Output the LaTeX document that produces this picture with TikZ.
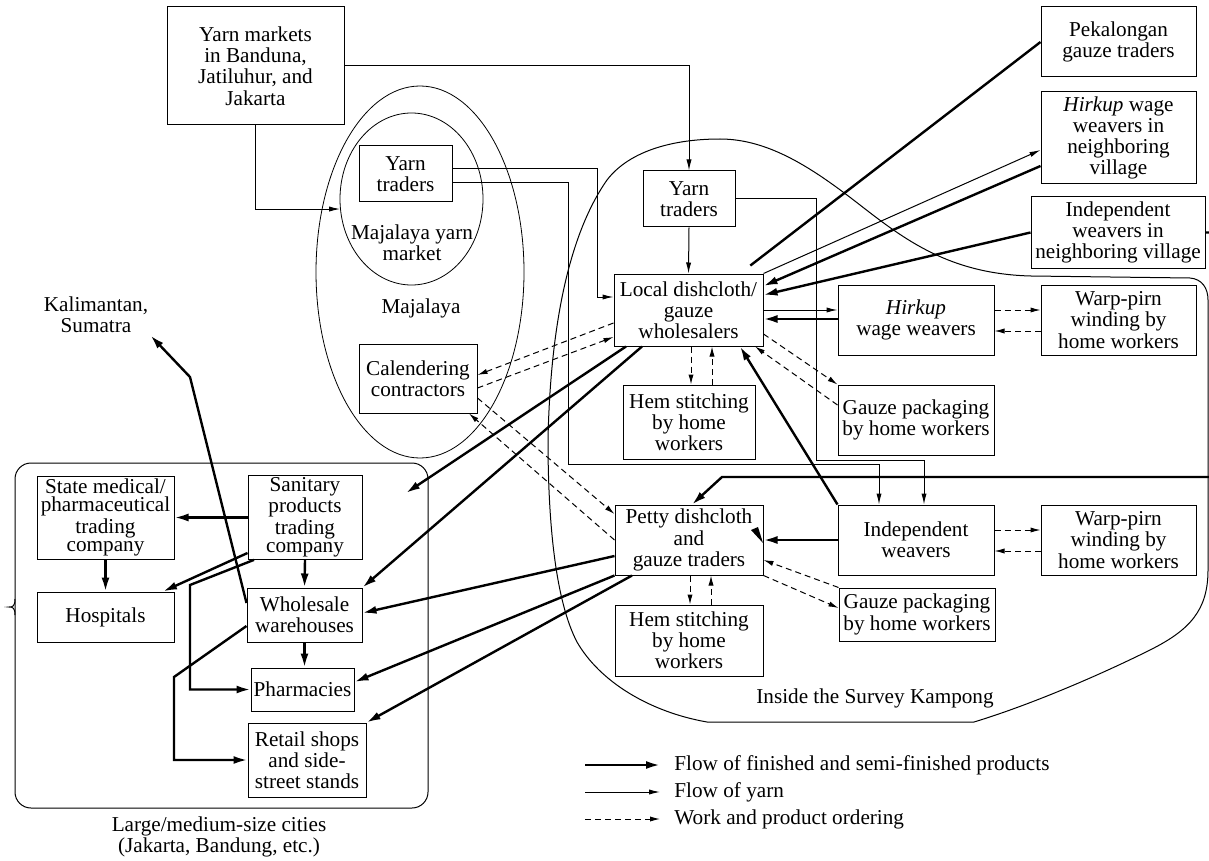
\documentclass[tikz,border=0pt]{standalone}
\usepackage{fontspec}
\setmainfont{Liberation Serif}
\usetikzlibrary{shapes.geometric,arrows.meta}
\tikzset{node distance=2cm,
  box/.style={draw,line width=0.5pt,align=center,inner sep=1pt,
    font=\fontsize{10.6}{10.6}\selectfont},
  lbl/.style={align=center,inner sep=1pt,font=\fontsize{10.6}{10.6}\selectfont},
  prod/.style={>={Latex[length=7pt,width=4pt]},->,line width=1.2pt},
  yarn/.style={>={Latex[length=5.5pt,width=2.6pt]},->,line width=0.5pt},
  order/.style={>={Latex[length=5pt,width=2.6pt]},->,line width=0.5pt,dash pattern=on 3pt off 2pt}}

\begin{document}
\begin{tikzpicture}[x=0.5pt,y=-0.5pt]
        \useasboundingbox (0,0) rectangle (1209,861);

        % Majalaya and the kampong
        \node [ellipse,draw,minimum width=104pt,minimum height=186pt,inner sep=0] (mjbig) at (420,272) {};
        \node [ellipse,draw,minimum width=71.5pt,minimum height=86pt,inner sep=0] (mjmkt) at (411.5,199) {};
        \node [lbl] (mjmktlbl) at (412,243) {Majalaya yarn\\market};
        \node [lbl] (mjbiglbl) at (421,308) {Majalaya};
        \draw [line width=0.5pt] (607,180) .. controls (630,150) and (675,139) .. (720,139)
            .. controls (770,139) and (815,170) .. (860,205)
            .. controls (905,240) and (950,274) .. (1031,276)
            -- (1190,278) .. controls (1202,279) and (1208,288) .. (1208,300)
            -- (1208,570) .. controls (1208,610) and (1190,630) .. (1150,650)
            .. controls (1100,675) and (1030,705) .. (974,722)
            -- (707,722) .. controls (650,712) and (600,682) .. (577,642)
            .. controls (555,600) and (548,520) .. (548,440)
            .. controls (550,340) and (565,240) .. (607,180) -- cycle;
        \node [lbl] (kamplbl) at (875,698) {Inside the Survey Kampong};

        % cities
        \node [draw,line width=0.5pt,rounded corners=8pt,minimum width=206.5pt,minimum height=172.5pt] (city) at (221.5,635.5) {};
        \draw [line width=0.5pt] (15,599) .. controls (15,606) and (13,607) .. (9,607)
                                 .. controls (13,607) and (15,608) .. (15,615);
        \node [lbl] (citylbl) at (219,837) {Large/medium-size cities\\(Jakarta, Bandung, etc.)};
        \node [lbl] (kalim) at (96,315) {Kalimantan,\\Sumatra};
        \coordinate (citytip) at (406,493);

        \node [box,minimum width=88.5pt,minimum height=59pt] (yarnmkt)   at (255.5,66)   {Yarn markets\\in Banduna,\\Jatiluhur, and\\Jakarta};
        \node [box,minimum width=46.5pt,minimum height=28pt] (mjtraders) at (405.5,174)  {Yarn\\traders};
        \node [box,minimum width=59pt,minimum height=34.5pt] (calend)    at (418,378.5)  {Calendering\\contractors};
        \node [box,minimum width=46pt,minimum height=28pt]   (ktraders)  at (689,199)    {Yarn\\traders};
        \node [box,minimum width=74.5pt,minimum height=36pt] (local)     at (688.5,310)  {Local dishcloth/\\gauze\\wholesalers};
        \node [box,minimum width=78pt,minimum height=35pt]   (hirkup)    at (916,320)    {\textit{Hirkup}\\wage weavers};
        \node [box,minimum width=77.5pt,minimum height=35pt] (warpA)     at (1118.5,320) {Warp-pirn\\winding by\\home workers};
        \node [box,minimum width=66pt,minimum height=37pt]   (hemA)      at (689,422)    {Hem stitching\\by home\\workers};
        \node [box,minimum width=78pt,minimum height=35pt]   (gauzeA)    at (916,420)    {Gauze packaging\\by home workers};
        \node [box,minimum width=74pt,minimum height=35pt]   (petty)     at (689,540)    {Petty dishcloth\\and\\gauze traders};
        \node [box,minimum width=78pt,minimum height=35pt]   (indep)     at (916,540)    {Independent\\weavers};
        \node [box,minimum width=77.5pt,minimum height=35pt] (warpB)     at (1118.5,540) {Warp-pirn\\winding by\\home workers};
        \node [box,minimum width=74pt,minimum height=35.5pt] (hemB)      at (689,640.5)  {Hem stitching\\by home\\workers};
        \node [box,minimum width=78pt,minimum height=26.5pt] (gauzeB)    at (917,614.5)  {Gauze packaging\\by home workers};
        \node [box,minimum width=77.5pt,minimum height=35pt] (pekal)     at (1118.5,42)  {Pekalongan\\gauze traders};
        \node [box,minimum width=77.5pt,minimum height=46pt] (hirkupnb)  at (1118.5,138) {\textit{Hirkup} wage\\weavers in\\neighboring\\village};
        \node [box,minimum width=87pt,minimum height=35.5pt] (indepnb)   at (1118,232.5) {Independent\\weavers in\\neighboring village};
        \node [box,minimum width=68.5pt,minimum height=41.5pt,font=\fontsize{10.6}{9.3}\selectfont] (state) at (105.5,517.5) {State medical/\\pharmaceutical\\trading\\company};
        \node [box,minimum width=57pt,minimum height=41.5pt,font=\fontsize{10.6}{9.3}\selectfont]   (sanit) at (305,517.5)   {Sanitary\\products\\trading\\company};
        \node [box,minimum width=68.5pt,minimum height=25pt] (hosp)      at (105.5,617)  {Hospitals};
        \node [box,minimum width=57.5pt,minimum height=27pt] (whole)     at (304.5,615)  {Wholesale\\warehouses};
        \node [box,minimum width=51.5pt,minimum height=21.5pt] (pharm)   at (302.5,689.5) {Pharmacies};
        \node [box,minimum width=59pt,minimum height=37pt]   (retail)    at (307,760)    {Retail shops\\and side-\\street stands};

        % yarn
        \draw [yarn] (yarnmkt.east) -| (ktraders.north);
        \draw [yarn] (yarnmkt.south) |- (mjmkt.188);
        \draw [yarn] (mjtraders.east |- 0,169) -| (597,297) -- (local.west |- 0,297);
        \draw [yarn] (mjtraders.east |- 0,183) -| (568,464) -| (indep.north -| 879,0);
        \draw [yarn] (ktraders.east) -| (816,460) -| (indep.north -| 924,0);
        \draw [yarn] (ktraders.south) -- (local.north);
        \draw [yarn] (local.north east) -- (hirkupnb.west |- 0,150);
        \draw [yarn] (local.east |- 0,310) -- (hirkup.west |- 0,310);

        % products
        \draw [prod] (hirkupnb.west |- 0,166) -- (local.east |- 0,286);
        \draw [prod] (indepnb.west) -- (local.east |- 0,295);
        \draw [prod,-,shorten >=6.5pt] (pekal.west) -- (local.north -| 740,0);
        \draw [prod] (hirkup.west |- 0,319) -- (local.east |- 0,319);
        \draw [prod] (indep.north west) -- (local.south -| 740,0);
        \draw [prod] (indep.west) -- (petty.east);
        \draw [prod] (indepnb.east) -| (1216,477) -- (722,477) -- (petty.north -| 692,0);
        \fill (751,530) -- (758,527) -- (763,543) -- cycle;
        \draw [prod] (local.south -| 626,0) -- (citytip);
        \draw [prod] (local.south -| 642,0) -- (whole.north east);
        \draw [prod] (petty.west |- 0,556) -- (whole.east |- 0,613);
        \draw [prod] (petty.south west) -- (pharm.east |- 0,682);
        \draw [prod] (petty.south -| 632,0) -- (retail.north east);
        \draw [prod] (sanit.west) -- (state.east);
        \draw [prod] (state.south) -- (hosp.north);
        \draw [prod] (sanit.south) -- (whole.north);
        \draw [prod] (whole.south) -- (pharm.north -| whole.south);
        \draw [prod] (sanit.west |- 0,553) -- (hosp.north -| 163,0);
        \draw [prod] (sanit.south -| 254,0) -- (190,585) |- (pharm.west);
        \draw [prod] (whole.west |- 0,626) -- (174,677) |- (retail.west);
        \draw [prod] (whole.west |- 0,603) -- (190,377) -- (kalim.south east);

        % work and product ordering
        \draw [order] (hirkup.east |- 0,310) -- (warpA.west |- 0,310);
        \draw [order] (warpA.west |- 0,331) -- (hirkup.east |- 0,331);
        \draw [order] (indep.east |- 0,530) -- (warpB.west |- 0,530);
        \draw [order] (warpB.west |- 0,551) -- (indep.east |- 0,551);
        \draw [order] (local.south -| 691,0) -- (hemA.north -| 691,0);
        \draw [order] (hemA.north -| 712,0) -- (local.south -| 712,0);
        \draw [order] (petty.south -| 690,0) -- (hemB.north -| 690,0);
        \draw [order] (hemB.north -| 711,0) -- (petty.south -| 711,0);
        \draw [order] (local.east |- 0,334) -- (gauzeA.north west);
        \draw [order] (gauzeA.west |- 0,405) -- (local.south -| 755,0);
        \draw [order] (petty.south east) -- (gauzeB.west |- 0,608);
        \draw [order] (gauzeB.north west) -- (petty.east |- 0,560);
        \draw [order] (local.west |- 0,323) -- (calend.east |- 0,375);
        \draw [order] (calend.east |- 0,388) -- (local.west |- 0,337);
        \draw [order] (calend.east |- 0,398) -- (petty.west |- 0,514);
        \draw [order] (petty.west |- 0,540) -- (calend.south -| 469,0);

        % legend
        \node [lbl,anchor=west] (leg1) at (672,765) {Flow of finished and semi-finished products};
        \node [lbl,anchor=west] (leg2) at (672,792) {Flow of yarn};
        \node [lbl,anchor=west] (leg3) at (672,819) {Work and product ordering};
        \coordinate (lg1) at (585,765);
        \coordinate (lg2) at (585,792);
        \coordinate (lg3) at (585,819);
        \draw [prod,shorten >=6pt]  (lg1) -- (leg1.west);
        \draw [yarn,shorten >=6pt]  (lg2) -- (leg2.west);
        \draw [order,shorten >=6pt] (lg3) -- (leg3.west);
      \end{tikzpicture}
\end{document}
